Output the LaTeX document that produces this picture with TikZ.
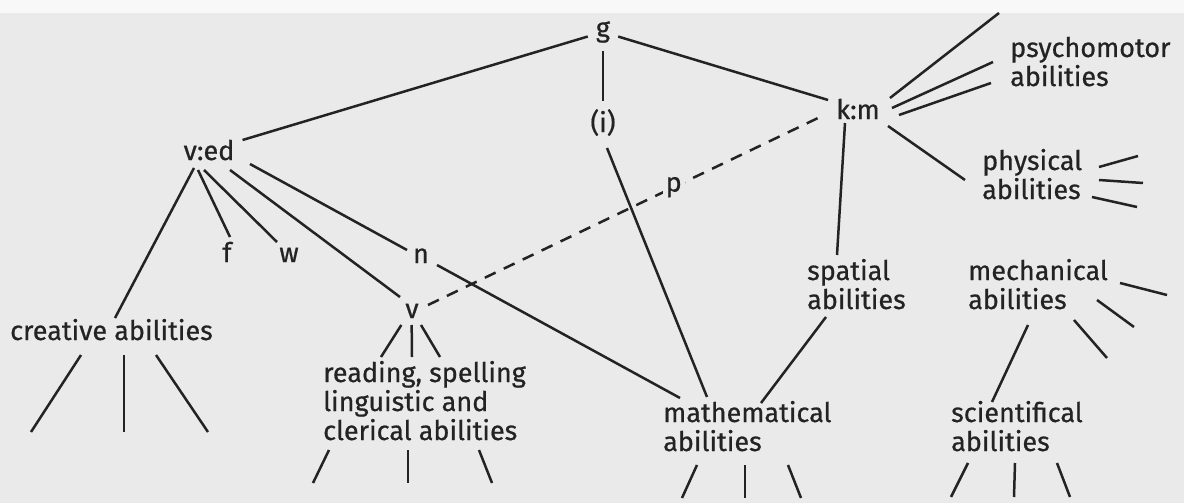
\documentclass[tikz,border=0pt]{standalone}
\usepackage{fontspec}
\setmainfont{Fira Sans}[FakeBold=0.6]
\definecolor{paper}{RGB}{234,234,234}
\definecolor{ink}{RGB}{35,35,35}

\begin{document}
\begin{tikzpicture}[
    x=1pt, y=-1pt,
    lbl/.style={anchor=base, inner sep=8pt, text=ink,
                font=\fontsize{27}{29}\selectfont},
    txt/.style={anchor=base west, inner sep=0pt, align=left, text=ink,
                font=\fontsize{27}{29}\selectfont},
    edge/.style={draw=ink, line width=2.5pt},
    dashedge/.style={edge, dash pattern=on 12pt off 9pt}
]
    % Papier
    \fill[paper] (0,0) rectangle (1184,503);
    \fill[paper!35!white] (0,0) rectangle (1184,13);
    \useasboundingbox (0,0) rectangle (1184,503);

    % Faktoren
    \node[lbl] (g)   at (603,37)  {g};
    \node[lbl] (i)   at (603,132) {(i)};
    \node[lbl] (km)  at (858,119) {k:m};
    \node[lbl] (ved) at (209,160) {v:ed};
    \node[lbl] (f)   at (227,262) {f};
    \node[lbl] (w)   at (289,262) {w};
    \node[lbl] (n)   at (421,263) {n};
    \node[lbl] (v)   at (412,318) {v};

    % Faehigkeiten (Anker: Grundlinie der letzten Zeile)
    \node[txt] (creative) at (10,340)  {creative abilities};
    \node[txt] (reading)  at (323,440)
        {reading, spelling\\linguistic and\\clerical abilities};
    \node[txt] (spatial)  at (807,309) {spatial\\abilities};
    \node[txt] (mech)     at (968,309) {mechanical\\abilities};
    \node[txt] (math)     at (663,451) {mathematical\\abilities};
    \node[txt] (sci)      at (951,451) {scientifical\\abilities};
    \node[txt] (psycho)   at (1010,86) {psychomotor\\abilities};
    \node[txt] (phys)     at (982,199) {physical\\abilities};

    % g und Gruppenfaktoren
    \draw[edge] (g) -- (ved);
    \draw[edge] (g) -- (i);
    \draw[edge] (g) -- (km);
    \draw[edge] ([shift={(4,16)}]i.base) -- ([shift={(44,-54)}]math.base west);

    % v:ed
    \draw[edge] ([shift={(-15,8)}]ved.base) -- ([shift={(105,-22)}]creative.base west);
    \draw[edge] ([shift={(-11,10)}]ved.base) -- ([shift={(3,-25)}]f.base);
    \draw[edge] ([shift={(-5,10)}]ved.base) -- ([shift={(-12,-20)}]w.base);
    \draw[edge] ([shift={(21,10)}]ved.base) -- ([shift={(-12,-21)}]v.base);
    \draw[edge] ([shift={(41,4)}]ved.base) -- ([shift={(-14,-13)}]n.base);
    \draw[edge] ([shift={(16,2)}]n.base) -- ([shift={(17,-53)}]math.base west);
    \foreach \ex in {58,89,117}
        \draw[edge] ([shift={(\ex/3-30,7)}]v.base) -- ([shift={(\ex,-83)}]reading.base west);

    % k:m
    \draw[dashedge] ([shift={(16,-13)}]v.base)
        -- node[lbl, anchor=center, pos=0.63, fill=paper, inner sep=3pt] (p) {p}
        ([shift={(-40,-1)}]km.base);
    \draw[edge] ([shift={(30,7)}]km.base) -- ([shift={(-17,-19)}]phys.base west);
    \draw[edge] ([shift={(-13,4)}]km.base) -- ([shift={(30,-54)}]spatial.base west);
    \draw[edge] ([shift={(19,8)}]spatial.base west) -- ([shift={(98,-48)}]math.base west);
    \draw[edge] ([shift={(60,16)}]mech.base west) -- ([shift={(41,-49)}]sci.base west);
    \foreach \sx/\sy/\dx/\dy in {32/-21/109/-85, 34/-11/101/-46, 41/-4/92/-32}
        \draw[edge] ([shift={(\sx,\sy)}]km.base) -- ++(\dx,\dy);

    % offene Enden
    \foreach \sx/\sy/\dx/\dy in {117/-32/39/-11, 117/-19/44/3, 110/-2/45/10}
        \draw[edge] ([shift={(\sx,\sy)}]phys.base west) -- ++(\dx,\dy);
    \foreach \sx/\sy/\dx/\dy in {152/-26/47/12, 129/-9/37/27, 106/11/33/38}
        \draw[edge] ([shift={(\sx,\sy)}]mech.base west) -- ++(\dx,\dy);
    \foreach \sx/\dx in {71/-50, 114/0, 146/52}
        \draw[edge] ([shift={(\sx,15)}]creative.base west) -- ++(\dx,77);
    \foreach \sx/\dx in {6/-16, 85/0, 156/13}
        \draw[edge] ([shift={(\sx,10)}]reading.base west) -- ++(\dx,33);
    \foreach \sx/\dx in {34/-15, 82/0, 125/13}
        \draw[edge] ([shift={(\sx,14)}]math.base west) -- ++(\dx,33);
    \foreach \sx/\dx in {17/-17, 64/-1, 106/13}
        \draw[edge] ([shift={(\sx,12)}]sci.base west) -- ++(\dx,34);

\end{tikzpicture}
\end{document}
